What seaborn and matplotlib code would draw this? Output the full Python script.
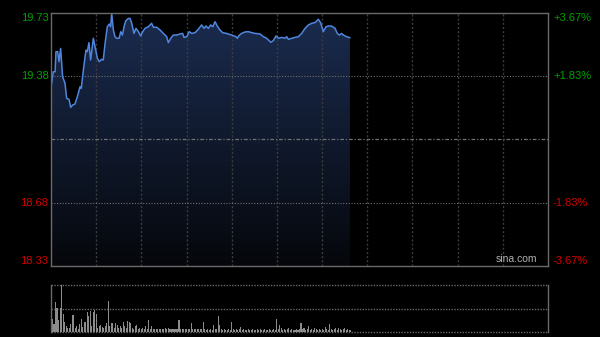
import numpy as np
import pandas as pd
import matplotlib
matplotlib.use("Agg")
import matplotlib.pyplot as plt
import matplotlib.transforms as mtransforms
from matplotlib.colors import LinearSegmentedColormap
import seaborn as sns

# ---------------- data ----------------
minutes = [0, 1.5, 2.7, 3.3, 4.4, 5.3, 6.4, 7.7, 9.3, 10.4,
           12.0, 13.1, 14.4, 15.9, 17.5, 19.3, 20.1, 21.5, 23.2, 24.1,
           25.2, 26.3, 28.1, 29.7, 30.8, 32.1, 33.6, 34.7, 35.9, 37.4,
           38.7, 39.6, 40.3, 41.4, 42.5, 43.6, 45.2, 46.3, 47.4, 48.5,
           49.6, 51.3, 52.5, 53.6, 55.1, 56.4, 58.0, 59.5, 60.9, 62.4,
           64.6, 66.8, 68.0, 70.2, 72.4, 74.6, 76.8, 77.9, 79.5, 81.2,
           83.4, 85.7, 87.4, 88.3, 90.1, 91.8, 93.4, 95.6, 97.8, 100.0,
           101.6, 102.9, 104.5, 106.0, 107.4, 108.9, 110.4, 112.2, 114.0, 116.6,
           120.0, 121.5, 122.8, 123.7, 125.1, 126.6, 128.8, 131.0, 133.3, 135.5,
           138.8, 141.0, 143.2, 145.9, 147.6, 149.4, 151.0, 153.2, 155.4, 156.5,
           157.6, 159.8, 162.0, 164.2, 166.4, 168.7, 170.9, 173.1, 175.3, 177.5,
           179.0, 180.8, 182.6, 184.1, 186.3, 188.6, 190.1, 191.5, 193.0, 194.1,
           196.3, 198.5]
prices = [19.319, 19.405, 19.405, 19.516, 19.516, 19.461, 19.534, 19.378, 19.341, 19.258,
          19.252, 19.208, 19.221, 19.226, 19.267, 19.322, 19.313, 19.415, 19.525, 19.516,
          19.566, 19.470, 19.590, 19.525, 19.479, 19.461, 19.474, 19.470, 19.562, 19.654,
          19.669, 19.654, 19.728, 19.636, 19.599, 19.590, 19.590, 19.627, 19.608, 19.654,
          19.686, 19.700, 19.700, 19.673, 19.617, 19.645, 19.627, 19.603, 19.627, 19.645,
          19.654, 19.673, 19.651, 19.651, 19.636, 19.617, 19.599, 19.566, 19.590, 19.608,
          19.608, 19.614, 19.617, 19.595, 19.599, 19.627, 19.617, 19.621, 19.640, 19.664,
          19.645, 19.658, 19.645, 19.664, 19.654, 19.682, 19.658, 19.636, 19.621, 19.617,
          19.608, 19.603, 19.599, 19.590, 19.608, 19.617, 19.625, 19.627, 19.621, 19.617,
          19.614, 19.599, 19.590, 19.568, 19.577, 19.603, 19.590, 19.595, 19.590, 19.599,
          19.584, 19.590, 19.595, 19.599, 19.617, 19.645, 19.664, 19.673, 19.677, 19.695,
          19.677, 19.627, 19.654, 19.658, 19.658, 19.645, 19.617, 19.608, 19.617, 19.608,
          19.599, 19.593]

volumes = [43, 13, 8, 30, 24, 12, 24, 47, 18, 10,
           6, 4, 4, 8, 17, 17, 4, 6, 3, 8,
           13, 5, 10, 10, 20, 16, 21, 6, 20, 22,
           18, 4, 6, 7, 5, 4, 6, 9, 31, 6,
           9, 9, 4, 9, 7, 4, 6, 4, 10, 6,
           4, 11, 10, 9, 4, 3, 6, 7, 3, 4,
           3, 4, 3, 6, 3, 12, 3, 6, 3, 3,
           3, 3, 3, 3, 3, 3, 4, 3, 4, 3,
           3, 3, 3, 3, 3, 12, 3, 3, 3, 3,
           3, 3, 3, 9, 3, 3, 3, 3, 3, 3,
           3, 10, 3, 2, 3, 2, 3, 2, 7, 3,
           3, 16, 7, 3, 2, 3, 2, 2, 3, 2,
           10, 3, 2, 3, 2, 3, 5, 2, 3, 2,
           2, 3, 2, 2, 3, 2, 2, 3, 2, 3,
           2, 2, 3, 2, 2, 3, 2, 2, 3, 2,
           13, 3, 7, 4, 2, 3, 2, 3, 4, 2,
           3, 2, 2, 3, 2, 3, 9, 3, 4, 2,
           3, 6, 2, 3, 2, 4, 3, 2, 3, 2,
           3, 2, 5, 3, 2, 8, 3, 2, 3, 4,
           2, 4, 3, 2, 3, 4, 2, 3, 2, 2]
volume_minutes = list(range(len(volumes)))

prev_close = 19.03
left_labels = ["19.73", "19.38", "18.68", "18.33"]
label_values = [19.73, 19.38, 18.68, 18.33]
right_labels = ["+3.67%", "+1.83%", "-1.83%", "-3.67%"]
label_colors = ["#00a000", "#00a000", "#d00000", "#d00000"]
session_minutes = 330

# ---------------- figure ----------------
sns.set_theme(style="dark")
plt.rcParams['font.family'] = ['Liberation Sans', 'DejaVu Sans']

fig = plt.figure(figsize=(6.0, 3.37), dpi=100, facecolor="black")
W, H = 600, 337
ax = fig.add_axes([51 / W, 1 - 266 / H, 497 / W, 253 / H])
axv = fig.add_axes([51 / W, 1 - 332 / H, 497 / W, 47 / H])

for a in (ax, axv):
    a.set_facecolor("black")
    a.grid(False)

ylo, yhi = 18.33, 19.73

df = pd.DataFrame({"minute": minutes, "price": prices})

# gradient fill under the line
poly = ax.fill_between(df["minute"], df["price"], ylo, color="none", lw=0)
grad = np.linspace(0, 1, 256).reshape(-1, 1)
cmap = LinearSegmentedColormap.from_list("g", ["#1b2c50", "#05070b"])
im = ax.imshow(grad, cmap=cmap, aspect="auto",
               extent=[0, session_minutes, ylo, yhi], origin="upper", zorder=1)
im.set_clip_path(poly.get_paths()[0], transform=ax.transData)

# gridlines (drawn over the fill, as in the reference)
for xm in range(30, session_minutes, 30):
    ax.axvline(xm, color="#3c3c3c", lw=1.0, ls=(0, (1.5, 1.5)), zorder=2)
for yv in (19.38, 18.68):
    ax.axhline(yv, color="#707070", lw=0.8, ls=(0, (1, 1.5)), zorder=2)
ax.axhline(prev_close, color="#707070", lw=0.9, ls=(0, (3, 1.5, 1, 1.5)), zorder=2)

sns.lineplot(data=df, x="minute", y="price", ax=ax, color="#4f86de", lw=1.1, zorder=3)
ax.set_xlim(0, session_minutes)
ax.set_ylim(ylo, yhi)
ax.set_xlabel("")
ax.set_ylabel("")
ax.set_xticks([])
ax.set_yticks([])

for s in ax.spines.values():
    s.set_visible(True)
    s.set_color("#6a6a6a")
    s.set_linewidth(1.0)
    s.set_zorder(4)

# price labels
tr_left = mtransforms.blended_transform_factory(ax.transAxes, ax.transData)
vas = ["top", "center", "center", "bottom"]
for lab, val, rl, col, va in zip(left_labels, label_values, right_labels, label_colors, vas):
    ax.text(-0.005, val, lab, transform=tr_left, ha="right", va=va, color=col,
            fontsize=8, clip_on=False)
    ax.text(1.01, val, rl, transform=tr_left, ha="left", va=va, color=col,
            fontsize=8, clip_on=False)

ax.text(0.978, 0.008, "sina.com", transform=ax.transAxes, ha="right", va="bottom",
        color="#b0b0b0", fontsize=7.5)

# ---------------- volume ----------------
dfv = pd.DataFrame({"minute": volume_minutes, "volume": volumes})
sns.barplot(data=dfv, x="minute", y="volume", ax=axv, native_scale=True,
            color="#8c8c8c", width=0.7, linewidth=0, saturation=1, errorbar=None, zorder=2)
axv.set_xlim(0, session_minutes)
axv.set_ylim(0, 47)
for yv in (47, 23.5, 0):
    axv.axhline(yv, color="#6a6a6a", lw=1.0, ls=(0, (1, 1)), zorder=1, clip_on=False)
for k, s in axv.spines.items():
    if k in ("left", "right"):
        s.set_visible(True)
        s.set_color("#6a6a6a")
        s.set_linewidth(1.0)
    else:
        s.set_visible(False)
axv.set_xlabel("")
axv.set_ylabel("")
axv.set_xticks([])
axv.set_yticks([])

fig.savefig("out.png", dpi=100, facecolor="black")
